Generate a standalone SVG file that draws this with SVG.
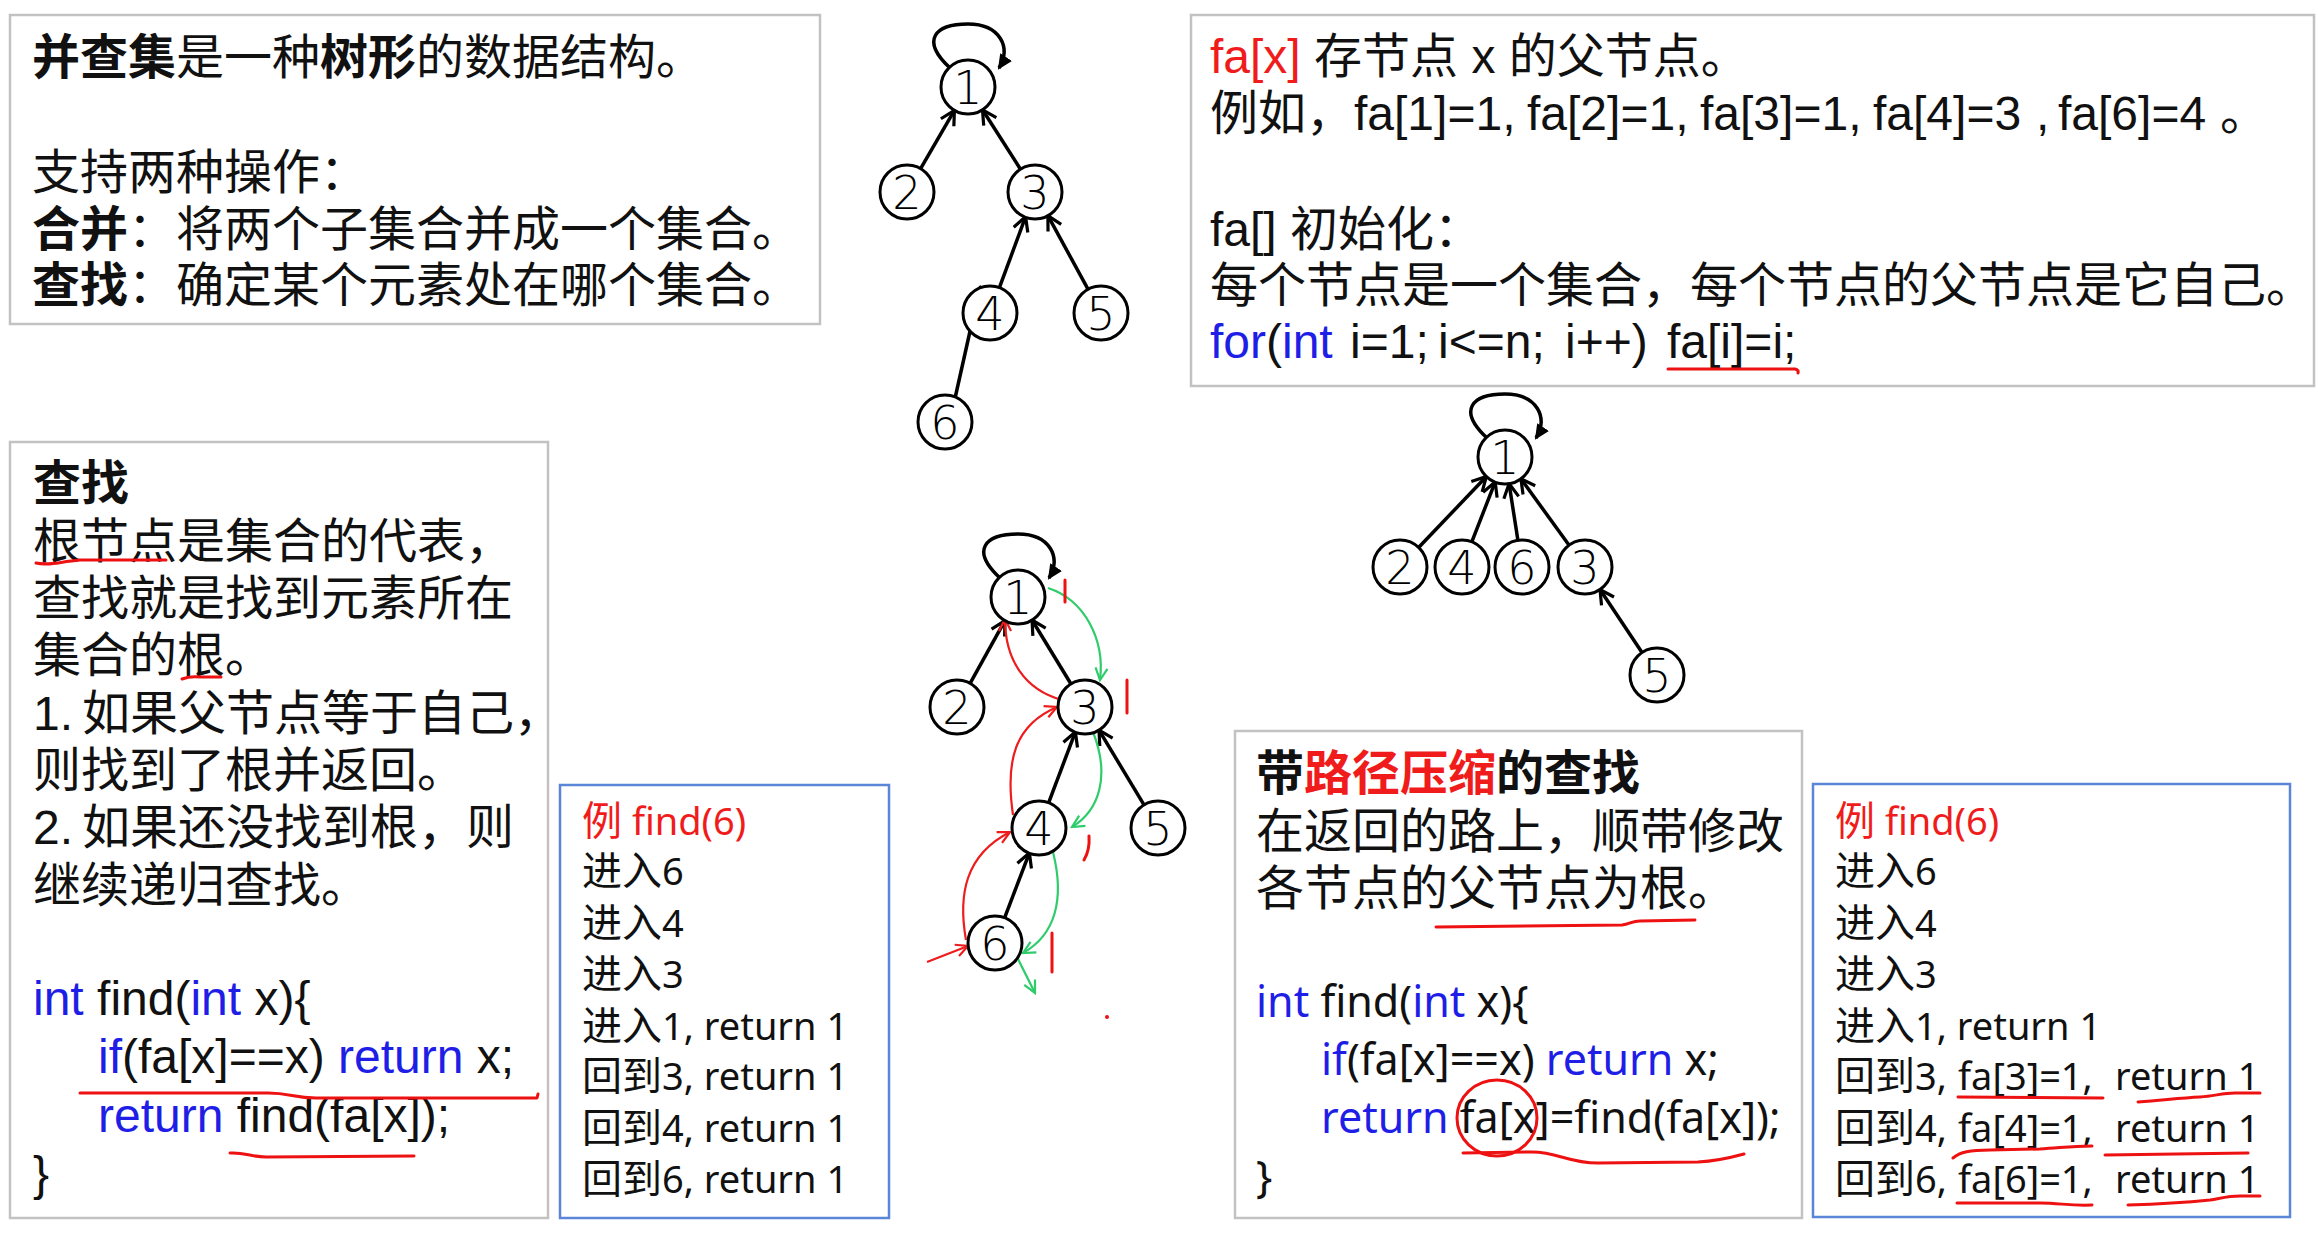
<svg xmlns="http://www.w3.org/2000/svg" width="2318" height="1241" viewBox="0 0 2318 1241">
<style>
.box{fill:#fff;stroke:#c2c2c2;stroke-width:2.5}
.bbox{fill:#fff;stroke:#5b85d6;stroke-width:2.5}
.dx{font-family:'Liberation Sans','Noto Sans CJK SC',sans-serif;font-size:48px;fill:#111}
.yh{font-family:'Noto Sans','Noto Sans CJK SC',sans-serif;fill:#111}
.cjk{font-family:'Noto Sans CJK SC',sans-serif;font-size:48px;fill:#111}
.b{font-weight:bold}
.red{fill:#f01c1c}
.blu{fill:#1e1ee6}
.nd circle{fill:#fff;stroke:#000;stroke-width:3}
.nd text{font-family:'DejaVu Sans',sans-serif;font-weight:200;font-size:46px;text-anchor:middle;fill:#000}
.e{stroke:#000;stroke-width:3.5;fill:none;marker-end:url(#av)}
.loop{stroke:#000;stroke-width:3.5;fill:none;marker-end:url(#as)}
.rc{stroke:#ee1c1c;stroke-width:2.2;fill:none;marker-end:url(#ar)}
.gc{stroke:#2ecc6a;stroke-width:2.2;fill:none;marker-end:url(#ag)}
.hw{stroke:#ee1111;stroke-width:3;fill:none;stroke-linecap:round;stroke-linejoin:round}
</style>
<defs>
<marker id="av" viewBox="0 0 20 20" refX="17" refY="10" markerWidth="20" markerHeight="20" markerUnits="userSpaceOnUse" orient="auto"><path d="M3,2.5 L17,10 L3,17.5" fill="none" stroke="#000" stroke-width="3.2"/></marker>
<marker id="as" viewBox="0 0 16 16" refX="13" refY="8" markerWidth="16" markerHeight="16" markerUnits="userSpaceOnUse" orient="auto"><path d="M0,1 L15,8 L0,15 Z" fill="#000"/></marker>
<marker id="ar" viewBox="0 0 16 16" refX="14" refY="8" markerWidth="16" markerHeight="16" markerUnits="userSpaceOnUse" orient="auto"><path d="M2,2 L14,8 L2,14" fill="none" stroke="#ee1c1c" stroke-width="2.2"/></marker>
<marker id="ag" viewBox="0 0 16 16" refX="14" refY="8" markerWidth="16" markerHeight="16" markerUnits="userSpaceOnUse" orient="auto"><path d="M2,2 L14,8 L2,14" fill="none" stroke="#2ecc6a" stroke-width="2.2"/></marker>
</defs>
<rect width="2318" height="1241" fill="#fff"/>

<g id="box-intro">
<rect class="box" x="10" y="15" width="810" height="309"/>
<text class="cjk" x="32" y="74"><tspan class="b">并查集</tspan>是一种<tspan class="b">树形</tspan>的数据结构。</text>
<text class="cjk" x="32" y="189">支持两种操作：</text>
<text class="cjk" x="32" y="246"><tspan class="b">合并</tspan>：将两个子集合并成一个集合。</text>
<text class="cjk" x="32" y="302"><tspan class="b">查找</tspan>：确定某个元素处在哪个集合。</text>
</g>

<g id="box-fa">
<rect class="box" x="1191" y="15" width="1123" height="371"/>
<text class="dx" y="73"><tspan x="1210" class="red">fa[x]</tspan> 存节点 x 的父节点。</text>
<text class="dx" y="130"><tspan x="1210">例如，</tspan><tspan x="1354">fa[1]=1,</tspan><tspan x="1527">fa[2]=1,</tspan><tspan x="1700">fa[3]=1,</tspan><tspan x="1873">fa[4]=3</tspan><tspan x="2036">,</tspan><tspan x="2058">fa[6]=4</tspan><tspan x="2220">。</tspan></text>
<text class="dx" x="1210" y="246">fa[] 初始化：</text>
<text class="dx" x="1210" y="302">每个节点是一个集合，每个节点的父节点是它自己。</text>
<text class="dx" y="358"><tspan x="1210" class="blu">for</tspan>(<tspan class="blu">int</tspan><tspan x="1350">i=1;</tspan><tspan x="1438">i&lt;=n;</tspan><tspan x="1565">i++)</tspan><tspan x="1667">fa[i]=i;</tspan></text>
<path class="hw" d="M1668,369 L1795,369 Q1799,370 1798,373"/>
</g>

<g id="box-find">
<rect class="box" x="10" y="442" width="538" height="776"/>
<text class="dx b" x="33" y="500">查找</text>
<text class="dx" x="33" y="558">根节点是集合的代表，</text>
<text class="dx" x="33" y="615">查找就是找到元素所在</text>
<text class="dx" x="33" y="672">集合的根。</text>
<text class="dx" x="33" y="730">1.<tspan x="82">如果父节点等于自己，</tspan></text>
<text class="dx" x="33" y="787">则找到了根并返回。</text>
<text class="dx" x="33" y="844">2.<tspan x="82">如果还没找到根，则</tspan></text>
<text class="dx" x="33" y="902">继续递归查找。</text>
<text class="dx" x="33" y="1015" font-size="46"><tspan class="blu">int</tspan> find(<tspan class="blu">int</tspan> x){</text>
<text class="dx" x="98" y="1073" font-size="46"><tspan class="blu">if</tspan>(fa[x]==x) <tspan class="blu">return</tspan> x;</text>
<text class="dx" x="98" y="1132" font-size="46"><tspan class="blu">return</tspan> find(fa[x]);</text>
<text class="dx" x="33" y="1190" font-size="46">}</text>
<path class="hw" d="M36,563 C48,566 58,562 80,560 L166,560"/>
<path class="hw" d="M182,679 Q190,676 200,677 L221,677"/>
<path class="hw" d="M80,1093 L268,1093 C290,1093 294,1098 316,1098 L537,1098 L538,1094"/>
<path class="hw" d="M230,1153 C245,1152 250,1157 266,1157 L414,1156"/>
</g>

<g id="box-example1">
<rect class="bbox" x="560" y="785" width="329" height="433"/>
<text class="yh red" x="582" y="835"><tspan font-size="40" font-family="'Noto Sans CJK SC',sans-serif">例</tspan><tspan font-size="38"> find(6)</tspan></text>
<g font-size="38">
<text class="yh" x="582" y="885"><tspan font-size="40">进入</tspan>6</text>
<text class="yh" x="582" y="937"><tspan font-size="40">进入</tspan>4</text>
<text class="yh" x="582" y="988"><tspan font-size="40">进入</tspan>3</text>
<text class="yh" x="582" y="1040"><tspan font-size="40">进入</tspan>1, return 1</text>
<text class="yh" x="582" y="1090"><tspan font-size="40">回到</tspan>3, return 1</text>
<text class="yh" x="582" y="1142"><tspan font-size="40">回到</tspan>4, return 1</text>
<text class="yh" x="582" y="1193"><tspan font-size="40">回到</tspan>6, return 1</text>
</g>
</g>

<g id="box-compress">
<rect class="box" x="1235" y="731" width="567" height="487"/>
<text class="dx b" x="1256" y="790">带<tspan class="red">路径压缩</tspan>的查找</text>
<text class="dx" x="1256" y="848">在返回的路上，顺带修改</text>
<text class="dx" x="1256" y="905">各节点的父节点为根。</text>
<text class="yh" x="1256" y="1017" font-size="43"><tspan class="blu">int</tspan> find(<tspan class="blu">int</tspan> x){</text>
<text class="yh" x="1321" y="1075" font-size="43"><tspan class="blu">if</tspan>(fa[x]==x) <tspan class="blu">return</tspan> x;</text>
<text class="yh" x="1321" y="1133" font-size="43"><tspan class="blu">return</tspan> fa[x]=find(fa[x]);</text>
<text class="yh" x="1256" y="1192" font-size="43">}</text>
<path class="hw" d="M1436,927 L1622,925 C1630,924 1632,921 1640,921 L1695,920"/>
<ellipse class="hw" cx="1497" cy="1118" rx="40" ry="38"/>
<path class="hw" d="M1463,1153 L1532,1152 C1558,1152 1568,1163 1598,1163 L1698,1162 C1718,1161 1733,1157 1744,1154"/>
</g>

<g id="box-example2">
<rect class="bbox" x="1813" y="784" width="477" height="433"/>
<text class="yh red" x="1835" y="835"><tspan font-size="40" font-family="'Noto Sans CJK SC',sans-serif">例</tspan><tspan font-size="38"> find(6)</tspan></text>
<g font-size="38">
<text class="yh" x="1835" y="885"><tspan font-size="40">进入</tspan>6</text>
<text class="yh" x="1835" y="937"><tspan font-size="40">进入</tspan>4</text>
<text class="yh" x="1835" y="988"><tspan font-size="40">进入</tspan>3</text>
<text class="yh" x="1835" y="1040"><tspan font-size="40">进入</tspan>1, return 1</text>
<text class="yh" x="1835" y="1090"><tspan font-size="40">回到</tspan>3, <tspan x="1958">fa[3]=1,</tspan><tspan x="2115">return 1</tspan></text>
<text class="yh" x="1835" y="1142"><tspan font-size="40">回到</tspan>4, <tspan x="1958">fa[4]=1,</tspan><tspan x="2115">return 1</tspan></text>
<text class="yh" x="1835" y="1193"><tspan font-size="40">回到</tspan>6, <tspan x="1958">fa[6]=1,</tspan><tspan x="2115">return 1</tspan></text>
</g>
<path class="hw" d="M1958,1097 L2103,1098"/>
<path class="hw" d="M2138,1102 C2165,1100 2180,1098 2200,1097 C2215,1096 2222,1093 2235,1093 L2260,1093"/>
<path class="hw" d="M1953,1158 C1960,1152 1970,1150 1990,1150 L2040,1149 C2060,1148 2070,1146 2092,1146"/>
<path class="hw" d="M2105,1155 L2248,1153"/>
<path class="hw" d="M1957,1203 L2040,1203 C2060,1203 2070,1206 2092,1205"/>
<path class="hw" d="M2128,1205 C2160,1204 2190,1202 2210,1200 C2222,1198 2228,1196 2240,1196 L2260,1196"/>
</g>

<g id="connectors">
<path class="loop" d="M950,68 C920,40 935,24 968,24 C1000,24 1012,48 999,68"/>
<line class="e" x1="920.6" y1="168.6" x2="954.4" y2="110.4"/>
<line class="e" x1="1020.5" y1="169.2" x2="982.5" y2="109.8"/>
<line class="e" x1="999.4" y1="287.7" x2="1025.6" y2="216.7"/>
<line class="e" x1="1088.1" y1="289.3" x2="1047.9" y2="215.7"/>
<line class="e" x1="955.3" y1="397" x2="979.7" y2="288"/>

<path class="loop" d="M1000,578 C970,550 985,534 1018,534 C1050,534 1062,558 1049,578"/>
<line class="e" x1="970.1" y1="683.4" x2="1004.9" y2="620.6"/>
<line class="e" x1="1071" y1="684" x2="1032" y2="620"/>
<line class="e" x1="1048.6" y1="802.8" x2="1075.4" y2="731.8"/>
<line class="e" x1="1144" y1="804.9" x2="1099" y2="730.1"/>
<line class="e" x1="1004.6" y1="917.8" x2="1029.4" y2="852.8"/>
<path class="rc" d="M927,962 L968,946"/>
<path class="rc" d="M966,940 C958,895 965,855 1010,832"/>
<path class="rc" d="M1013,815 C1005,760 1015,725 1057,707"/>
<path class="rc" d="M1062,700 C1025,690 1005,660 1005,619"/>
<path class="gc" d="M1048,588 C1085,600 1105,640 1100,680"/>
<path class="gc" d="M1093,732 C1110,775 1100,810 1072,827"/>
<path class="gc" d="M1053,852 C1065,900 1055,935 1023,953"/>
<path class="gc" d="M1017,957 L1035,993"/>
<path class="hw" d="M1065,580 L1065,602"/>
<path class="hw" d="M1127,680 L1127,713"/>
<path class="hw" d="M1089,836 Q1090,850 1084,860"/>
<path class="hw" d="M1052,933 L1052,972"/>
<circle cx="1107" cy="1017" r="2" fill="#ee1111"/>

<path class="loop" d="M1487,438 C1457,410 1472,394 1505,394 C1537,394 1549,418 1536,438"/>
<line class="e" x1="1418.6" y1="547.5" x2="1486.4" y2="476.5"/>
<line class="e" x1="1471.8" y1="541.9" x2="1495.2" y2="481.9"/>
<line class="e" x1="1517.9" y1="540.3" x2="1509.1" y2="483.7"/>
<line class="e" x1="1569.1" y1="545.2" x2="1520.9" y2="478.8"/>
<line class="e" x1="1642" y1="652.5" x2="1600" y2="589.5"/>
</g>

<g id="tree1">
<g id="t1-n1" class="nd"><circle cx="968" cy="87" r="27"/><text x="968" y="104">1</text></g>
<g id="t1-n2" class="nd"><circle cx="907" cy="192" r="27"/><text x="907" y="209">2</text></g>
<g id="t1-n3" class="nd"><circle cx="1035" cy="192" r="27"/><text x="1035" y="209">3</text></g>
<g id="t1-n4" class="nd"><circle cx="990" cy="313" r="27"/><text x="990" y="330">4</text></g>
<g id="t1-n5" class="nd"><circle cx="1101" cy="313" r="27"/><text x="1101" y="330">5</text></g>
<g id="t1-n6" class="nd"><circle cx="945" cy="422" r="27"/><text x="945" y="439">6</text></g>
</g>
<g id="tree2">
<g id="t2-n1" class="nd"><circle cx="1018" cy="597" r="27"/><text x="1018" y="614">1</text></g>
<g id="t2-n2" class="nd"><circle cx="957" cy="707" r="27"/><text x="957" y="724">2</text></g>
<g id="t2-n3" class="nd"><circle cx="1085" cy="707" r="27"/><text x="1085" y="724">3</text></g>
<g id="t2-n4" class="nd"><circle cx="1039" cy="828" r="27"/><text x="1039" y="845">4</text></g>
<g id="t2-n5" class="nd"><circle cx="1158" cy="828" r="27"/><text x="1158" y="845">5</text></g>
<g id="t2-n6" class="nd"><circle cx="995" cy="943" r="27"/><text x="995" y="960">6</text></g>
</g>
<g id="tree3">
<g id="t3-n1" class="nd"><circle cx="1505" cy="457" r="27"/><text x="1505" y="474">1</text></g>
<g id="t3-n2" class="nd"><circle cx="1400" cy="567" r="27"/><text x="1400" y="584">2</text></g>
<g id="t3-n4" class="nd"><circle cx="1462" cy="567" r="27"/><text x="1462" y="584">4</text></g>
<g id="t3-n6" class="nd"><circle cx="1522" cy="567" r="27"/><text x="1522" y="584">6</text></g>
<g id="t3-n3" class="nd"><circle cx="1585" cy="567" r="27"/><text x="1585" y="584">3</text></g>
<g id="t3-n5" class="nd"><circle cx="1657" cy="675" r="27"/><text x="1657" y="692">5</text></g>
</g>
</svg>
